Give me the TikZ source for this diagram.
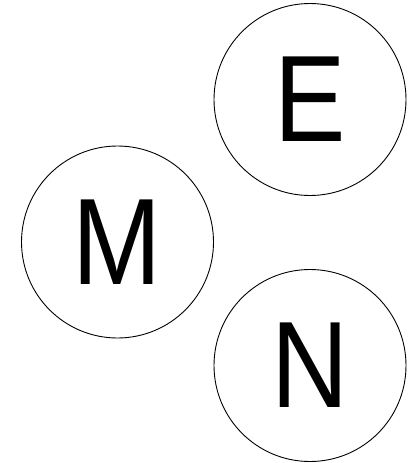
\documentclass[tikz,border=0pt]{standalone}
\usepackage{fontspec}
\setmainfont{Liberation Sans}[FakeStretch=0.87]
\begin{document}
\begin{tikzpicture}[x=1pt,y=-1pt,
  letter/.style={circle,draw=black,line width=0.9pt,minimum size=192pt,inner sep=0pt,
    font=\fontsize{123}{123}\selectfont}]
\useasboundingbox (0,0) rectangle (415,463);
\node[letter] (E) at (310,99.5) {E};
\node[letter] (M) at (117.5,242) {M};
\node[letter] (N) at (310,365.5) {N};
\end{tikzpicture}
\end{document}
